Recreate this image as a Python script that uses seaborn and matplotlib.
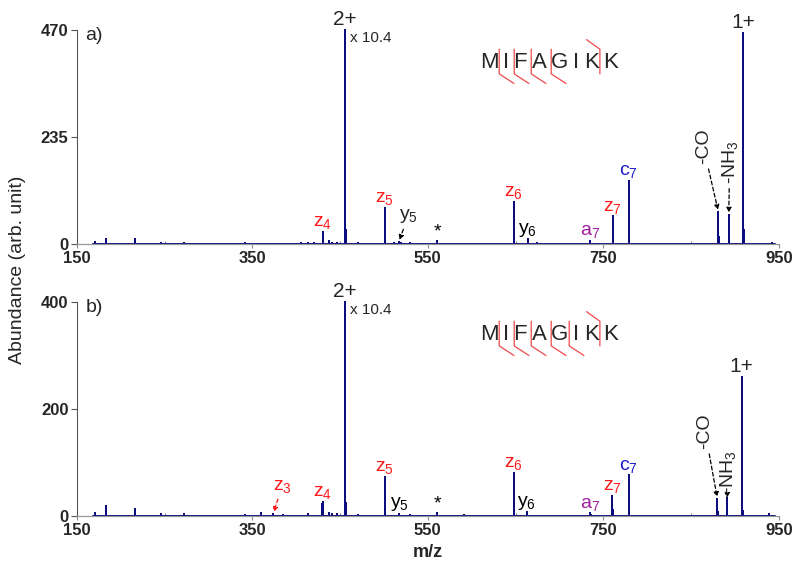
"""ETD/ECD-type fragment spectra of MIFAGIKK, two panels."""

import matplotlib
matplotlib.use("Agg")
import matplotlib.pyplot as plt
import pandas as pd
import seaborn as sns

# ---- data (m/z, abundance) ----
mz_a = [171, 183, 216, 246, 272, 290, 342, 360, 375, 390, 405, 413, 420,
        430, 431, 437, 441, 447, 455.5, 456, 456.5, 457, 470, 501, 501.5,
        512, 517, 519, 530, 561, 600, 648, 648.5, 664, 675, 735, 761, 761.5,
        779, 779.5, 881, 881.5, 893, 893.5, 909, 909.5, 910, 910.5, 942]
ab_a = [4, 12, 11, 3, 3, 1, 2, 1, 1, 1, 2, 2, 2,
        27, 10, 6, 3, 2, 470, 120, 30, 8, 2, 80, 18,
        3, 5, 3, 2, 6, 1, 92, 15, 10, 2, 7, 61, 20,
        138, 25, 70, 15, 64, 15, 463, 111, 30, 8, 3]

mz_b = [171, 183, 216, 246, 272, 342, 360, 374, 385, 413, 429, 430, 431,
        437, 441, 446, 455.5, 456, 456.5, 457, 470, 501, 501.5, 517, 530,
        561, 591, 648, 648.5, 663, 735, 736, 760, 760.5, 779, 779.5, 880,
        880.5, 891, 891.5, 907.5, 908, 908.5, 909, 939]
ab_b = [5, 18, 13, 3, 3, 2, 6, 4, 2, 4, 22, 26, 8,
        5, 4, 3, 400, 87, 25, 8, 2, 73, 15, 4, 2,
        5, 2, 81, 15, 7, 5, 2, 38, 12, 76, 15, 32,
        8, 33, 8, 260, 230, 40, 10, 3]

xticks = [150, 350, 550, 750, 950]
xminor = [250, 450, 650, 850]
yticks_a = [0, 235, 470]
yticks_b = [0, 200, 400]

sequence = list("MIFAGIKK")
z_cuts_a = [0, 1, 2, 3]      # bond after residue i, hook below
z_cuts_b = [0, 1, 2, 3, 4]
c_cuts = [6]                 # hook above

RED, BLUE, PURPLE, NAVY = "#ff1a1a", "#1a1acc", "#a020a0", "#0d0d80"

ions_a = [("$z_4$", 430, RED), ("$z_5$", 501, RED), ("$z_6$", 648, RED),
          ("$y_6$", 664, "black"), ("$a_7$", 735, PURPLE), ("$z_7$", 761, RED),
          ("$c_7$", 779, BLUE), ("*", 561, "black")]
ions_b = [("$z_4$", 430, RED), ("$z_5$", 501, RED), ("$y_5$", 518, "black"),
          ("$z_6$", 648, RED), ("$y_6$", 663, "black"), ("$a_7$", 735, PURPLE),
          ("$z_7$", 760, RED), ("$c_7$", 779, BLUE), ("*", 561, "black")]

sns.set_theme(style="ticks")
plt.rcParams["font.family"] = ["Liberation Sans", "DejaVu Sans"]
plt.rcParams["mathtext.default"] = "regular"

DASH = dict(arrowstyle="-|>", linestyle=(0, (3, 2)), lw=0.9, color="black",
            mutation_scale=7, shrinkA=1, shrinkB=1)


def stick_frame(mz, ab, start=168, end=946):
    xs, ys = [start], [0]
    for m, a in zip(mz, ab):
        xs += [m, m, m]; ys += [0, a, 0]
    xs.append(end); ys.append(0)
    return pd.DataFrame({"mz": xs, "abundance": ys})


def peak_height(mz, ab, m):
    return max(a for x, a in zip(mz, ab) if abs(x - m) < 1.5)


def draw_sequence(ax, z_cuts):
    # letter centres in pixels of the original layout -> axes fraction
    px = [490, 506, 520, 540, 560, 576, 592, 611]
    fx = [(p - 77) / 702 for p in px]
    y0, y1, yl = 0.795, 0.91, 0.848
    for x, ch in zip(fx, sequence):
        ax.text(x, yl, ch, transform=ax.transAxes, ha="center", va="center", fontsize=16)
    kw = dict(transform=ax.transAxes, color="#f04848", lw=0.9, clip_on=False)
    for i in z_cuts:
        xb = (fx[i] + fx[i + 1]) / 2 + 0.002
        ax.plot([xb, xb, xb + 0.021], [y1, y0, y0 - 0.045], **kw)
    for i in c_cuts:
        xb = (fx[i] + fx[i + 1]) / 2 - 0.002
        ax.plot([xb, xb, xb - 0.019], [y0, y1, y1 + 0.045], **kw)


def draw_panel(ax, mz, ab, yticks, ions, letter, z_cuts):
    df = stick_frame(mz, ab)
    sns.lineplot(data=df, x="mz", y="abundance", sort=False, estimator=None,
                 color=NAVY, lw=1.4, ax=ax)
    ax.lines[-1].set_clip_on(False)
    ax.set_xlim(150, 950); ax.set_ylim(0, yticks[-1])
    ax.set_xticks(xticks); ax.set_xticks(xminor, minor=True)
    ax.set_yticks(yticks)
    ax.set_xlabel(""); ax.set_ylabel("")
    for lab in ax.get_xticklabels() + ax.get_yticklabels():
        lab.set_fontweight("bold"); lab.set_fontsize(12)
    ax.tick_params(axis="y", direction="out", length=4, width=0.8, color="#555555", pad=2)
    ax.tick_params(axis="x", which="major", direction="out", length=3, width=0.8, color="#888888", pad=2)
    ax.tick_params(axis="x", which="minor", direction="in", length=2, width=0.8, color="#888888")
    sns.despine(ax=ax)
    ax.spines["left"].set_color("#555555"); ax.spines["left"].set_linewidth(0.8)
    ax.spines["bottom"].set_color("#999999"); ax.spines["bottom"].set_linewidth(0.9)

    ax.text(0.012, 0.975, letter, transform=ax.transAxes, ha="left", va="center", fontsize=14)
    for txt, m, col in ions:
        h = peak_height(mz, ab, m)
        ax.annotate(txt, (m, h), xytext=(0, 0.5), textcoords="offset points",
                    ha="center", va="bottom", color=col, fontsize=14, annotation_clip=False)
    draw_sequence(ax, z_cuts)


fig = plt.figure(figsize=(8, 5.71), dpi=100)
ax_a = fig.add_axes([0.096, 0.5727, 0.8775, 0.3748])
ax_b = fig.add_axes([0.096, 0.0963, 0.8775, 0.3748])

draw_panel(ax_a, mz_a, ab_a, yticks_a, ions_a, "a)", z_cuts_a)
draw_panel(ax_b, mz_b, ab_b, yticks_b, ions_b, "b)", z_cuts_b)

# precursor / charge-reduced labels
for ax, mz, ab, top in [(ax_a, mz_a, ab_a, 452), (ax_b, mz_b, ab_b, 385)]:
    h2 = peak_height(mz, ab, 455.5)
    ax.annotate("2+", (455.5, h2), xytext=(0, 1), textcoords="offset points",
                ha="center", va="bottom", fontsize=15, annotation_clip=False)
    ax.text(461, top, "x 10.4", ha="left", va="center", fontsize=11)
ax_a.annotate("1+", (909, peak_height(mz_a, ab_a, 909)), xytext=(0, 1), textcoords="offset points",
              ha="center", va="bottom", fontsize=15, annotation_clip=False)
ax_b.annotate("1+", (907.5, peak_height(mz_b, ab_b, 907.5)), xytext=(0, 1), textcoords="offset points",
              ha="center", va="bottom", fontsize=15)

# neutral-loss and arrowed labels
ax_a.annotate("$y_5$", (517, 6), xytext=(528, 62), ha="center", va="center", fontsize=14, arrowprops=DASH)
ax_a.annotate("-CO", (881, 72), xytext=(864, 214), rotation=90, ha="center", va="center",
              fontsize=14, arrowprops=DASH)
ax_a.annotate("-NH$_3$", (893, 66), xytext=(894, 180), rotation=90, ha="center", va="center",
              fontsize=14, arrowprops=DASH)
ax_b.annotate("-CO", (880, 33), xytext=(866, 158), rotation=90, ha="center", va="center",
              fontsize=14, arrowprops=DASH)
ax_b.annotate("-NH$_3$", (891, 34), xytext=(892, 82), rotation=90, ha="center", va="center",
              fontsize=14, arrowprops=DASH)
ax_b.annotate("$z_3$", (374, 5), xytext=(384, 56), ha="center", va="center", fontsize=14, color=RED,
              arrowprops={**DASH, "color": RED})

fig.text(0.0225, 0.527, "Abundance (arb. unit)", rotation=90, ha="center", va="center", fontsize=14)
fig.text(0.535, 0.032, "m/z", ha="center", va="center", fontsize=13, fontweight="bold")

fig.savefig("out.png", dpi=100)
